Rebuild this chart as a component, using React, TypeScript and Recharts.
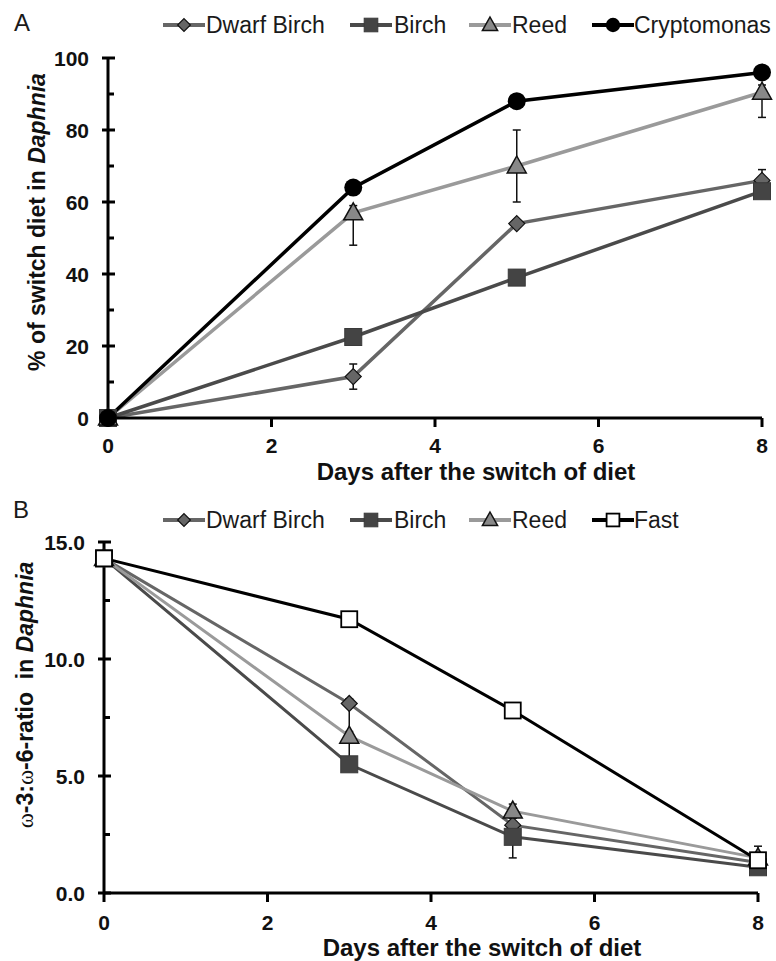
import React from 'react';
import { LineChart, Line, XAxis, YAxis, ErrorBar } from 'recharts';

const FONT = '"Liberation Sans", Arial, Helvetica, sans-serif';

// days after the diet switch
const days = [0, 3, 5, 8];
const xTicks = [0, 2, 4, 6, 8];

// panel A: % of switch diet in Daphnia
const dwarfBirchA = [0, 11.5, 54, 66];
const dwarfBirchErrA = [[0, 0], [3.5, 3.5], [1, 1], [3, 3]];
const birchA = [0, 22.5, 39, 63];
const birchErrA = [[0, 0], [1, 1], [2, 2], [1, 1]];
const reedA = [0, 57, 70, 90.5];
const reedErrA = [[0, 0], [9, 2], [10, 10], [7, 2]];
const cryptoA = [0, 64, 88, 96];
const yTicksA = [0, 10, 20, 30, 40, 50, 60, 70, 80, 90, 100];

// panel B: w-3:w-6 ratio in Daphnia
const dwarfBirchB = [14.3, 8.1, 2.9, 1.3];
const dwarfBirchErrB = [[0, 0], [1.3, 0.2], [0.3, 0.3], [0.2, 0.2]];
const birchB = [14.3, 5.5, 2.4, 1.1];
const birchErrB = [[0, 0], [0.3, 0.3], [0.9, 0.3], [0.2, 0.2]];
const reedB = [14.3, 6.7, 3.5, 1.5];
const reedErrB = [[0, 0], [1.1, 0.2], [0.3, 0.3], [0.2, 0.5]];
const fastB = [14.3, 11.7, 7.8, 1.4];
const yTicksB = [0, 2.5, 5, 7.5, 10, 12.5, 15];

const rowsA = days.map((day, i) => ({
  day,
  dwarf: dwarfBirchA[i], dwarfErr: dwarfBirchErrA[i],
  birch: birchA[i], birchErr: birchErrA[i],
  reed: reedA[i], reedErr: reedErrA[i],
  crypto: cryptoA[i],
}));

const rowsB = days.map((day, i) => ({
  day,
  dwarf: dwarfBirchB[i], dwarfErr: dwarfBirchErrB[i],
  birch: birchB[i], birchErr: birchErrB[i],
  reed: reedB[i], reedErr: reedErrB[i],
  fast: fastB[i],
}));

const Marker = ({ kind, cx, cy, s = 1 }: any) => {
  if (cx == null || cy == null) return null;
  switch (kind) {
    case 'diamond':
      return <polygon points={`${cx},${cy - 8 * s} ${cx + 8 * s},${cy} ${cx},${cy + 8 * s} ${cx - 8 * s},${cy}`} fill="#666" stroke="#111" strokeWidth={1.2} />;
    case 'square':
      return <rect x={cx - 8.5 * s} y={cy - 8.5 * s} width={17 * s} height={17 * s} fill="#444" stroke="#3a3a3a" strokeWidth={1} />;
    case 'triangle':
      return <polygon points={`${cx},${cy - 10 * s} ${cx + 9.5 * s},${cy + 7 * s} ${cx - 9.5 * s},${cy + 7 * s}`} fill="#888" stroke="#111" strokeWidth={1.5} />;
    case 'circle':
      return <circle cx={cx} cy={cy} r={9 * s} fill="#000" />;
    case 'open':
      return <rect x={cx - 8 * s} y={cy - 8 * s} width={16 * s} height={16 * s} fill="#fff" stroke="#000" strokeWidth={1.8} />;
    default:
      return null;
  }
};

const dot = (kind: string) => (p: any) => (
  <g key={`${kind}-${p.index}`}><Marker kind={kind} cx={p.cx} cy={p.cy} /></g>
);

const YTick = ({ x, y, payload, step, digits }: any) => {
  const v = payload.value;
  const major = Math.abs(v / step - Math.round(v / step)) < 1e-6;
  return (
    <g>
      {major
        ? <line x1={x - 6} x2={x + 7} y1={y} y2={y} stroke="#000" strokeWidth={3} />
        : <line x1={x} x2={x + 6} y1={y} y2={y} stroke="#000" strokeWidth={3} />}
      {major && (
        <text x={x - 19} y={y + 7.5} textAnchor="end" fontWeight="bold" fontSize={21} fill="#111" fontFamily={FONT}>
          {v.toFixed(digits)}
        </text>
      )}
    </g>
  );
};

const XTick = ({ x, y, payload, gap }: any) => (
  <g>
    <line x1={x} x2={x} y1={y} y2={y + 9} stroke="#000" strokeWidth={3} />
    <text x={x} y={y + gap} textAnchor="middle" fontWeight="bold" fontSize={21} fill="#111" fontFamily={FONT}>
      {payload.value}
    </text>
  </g>
);

const LegendRow = ({ y, items }: any) => (
  <g>
    {items.map((it: any) => (
      <g key={it.name}>
        <line x1={it.lx} x2={it.lx + 42} y1={y} y2={y} stroke={it.color} strokeWidth={4} />
        <Marker kind={it.kind} cx={it.lx + 21} cy={y} s={0.8} />
        <text x={it.tx} y={y + 8} fontSize={23} fill="#1a1a1a" fontFamily={FONT}>{it.name}</text>
      </g>
    ))}
  </g>
);

const legendA = [
  { name: 'Dwarf Birch', kind: 'diamond', color: '#666', lx: 163, tx: 206 },
  { name: 'Birch', kind: 'square', color: '#4a4a4a', lx: 350, tx: 394 },
  { name: 'Reed', kind: 'triangle', color: '#9a9a9a', lx: 469, tx: 512 },
  { name: 'Cryptomonas', kind: 'circle', color: '#000', lx: 592, tx: 634 },
];
const legendB = [
  { name: 'Dwarf Birch', kind: 'diamond', color: '#666', lx: 163, tx: 206 },
  { name: 'Birch', kind: 'square', color: '#4a4a4a', lx: 350, tx: 394 },
  { name: 'Reed', kind: 'triangle', color: '#9a9a9a', lx: 469, tx: 512 },
  { name: 'Fast', kind: 'open', color: '#000', lx: 592, tx: 634 },
];

const eb = (key: string) => (
  <ErrorBar dataKey={key} direction="y" width={4} strokeWidth={1.5} stroke="#111" />
);

export default function App() {
  return (
    <div style={{ position: 'absolute', left: 0, top: 0, width: 776, height: 961, background: '#fff', fontFamily: FONT }}>
      <div style={{ position: 'absolute', left: 0, top: 0 }}>
        <LineChart width={776} height={490} data={rowsA} margin={{ top: 58, right: 14, bottom: 32, left: 0 }}>
          <XAxis dataKey="day" type="number" domain={[0, 8]} ticks={xTicks} interval={0} height={40}
            axisLine={{ stroke: '#000', strokeWidth: 3 }} tickLine={false} tickSize={0} tickMargin={0}
            tick={<XTick gap={35} />} />
          <YAxis type="number" domain={[0, 100]} ticks={yTicksA} interval={0} width={108}
            axisLine={{ stroke: '#000', strokeWidth: 3 }} tickLine={false} tickSize={0} tickMargin={0}
            tick={<YTick step={20} digits={0} />} />
          <Line dataKey="dwarf" stroke="#666" strokeWidth={3.5} dot={dot('diamond')} isAnimationActive={false}>{eb('dwarfErr')}</Line>
          <Line dataKey="birch" stroke="#4a4a4a" strokeWidth={3.5} dot={dot('square')} isAnimationActive={false}>{eb('birchErr')}</Line>
          <Line dataKey="reed" stroke="#9a9a9a" strokeWidth={3.5} dot={dot('triangle')} isAnimationActive={false}>{eb('reedErr')}</Line>
          <Line dataKey="crypto" stroke="#000" strokeWidth={3.5} dot={dot('circle')} isAnimationActive={false} />
          <text x={14} y={31} fontSize={24} fill="#1a1a1a" fontFamily={FONT}>A</text>
          <LegendRow y={25} items={legendA} />
          <text transform="translate(45,222) rotate(-90)" textAnchor="middle" fontWeight="bold" fontSize={23} fill="#111" fontFamily={FONT}>
            % of switch diet in <tspan fontStyle="italic">Daphnia</tspan>
          </text>
          <text x={476} y={480} textAnchor="middle" fontWeight="bold" fontSize={24} fill="#111" fontFamily={FONT}>
            Days after the switch of diet
          </text>
        </LineChart>
      </div>
      <div style={{ position: 'absolute', left: 0, top: 480 }}>
        <LineChart width={776} height={481} data={rowsB} margin={{ top: 62, right: 18, bottom: 28, left: 0 }}>
          <XAxis dataKey="day" type="number" domain={[0, 8]} ticks={xTicks} interval={0} height={40}
            axisLine={{ stroke: '#000', strokeWidth: 3 }} tickLine={false} tickSize={0} tickMargin={0}
            tick={<XTick gap={37} />} />
          <YAxis type="number" domain={[0, 15]} ticks={yTicksB} interval={0} width={104}
            axisLine={{ stroke: '#000', strokeWidth: 3 }} tickLine={false} tickSize={0} tickMargin={0}
            tick={<YTick step={5} digits={1} />} />
          <Line dataKey="dwarf" stroke="#666" strokeWidth={3} dot={dot('diamond')} isAnimationActive={false}>{eb('dwarfErr')}</Line>
          <Line dataKey="birch" stroke="#4a4a4a" strokeWidth={3} dot={dot('square')} isAnimationActive={false}>{eb('birchErr')}</Line>
          <Line dataKey="reed" stroke="#9a9a9a" strokeWidth={3} dot={dot('triangle')} isAnimationActive={false}>{eb('reedErr')}</Line>
          <Line dataKey="fast" stroke="#000" strokeWidth={3} dot={dot('open')} isAnimationActive={false} />
          <text x={13} y={38} fontSize={24} fill="#1a1a1a" fontFamily={FONT}>B</text>
          <LegendRow y={40} items={legendB} />
          <text transform="translate(33,215) rotate(-90)" textAnchor="middle" fontWeight="bold" fontSize={23} fill="#111" fontFamily={FONT}>
            <tspan fontFamily='"Liberation Serif", serif' fontWeight="normal">ω</tspan>-3:<tspan fontFamily='"Liberation Serif", serif' fontWeight="normal">ω</tspan>-6-ratio{'\u00a0 '}in <tspan fontStyle="italic">Daphnia</tspan>
          </text>
          <text x={482} y={476} textAnchor="middle" fontWeight="bold" fontSize={24} fill="#111" fontFamily={FONT}>
            Days after the switch of diet
          </text>
        </LineChart>
      </div>
    </div>
  );
}
